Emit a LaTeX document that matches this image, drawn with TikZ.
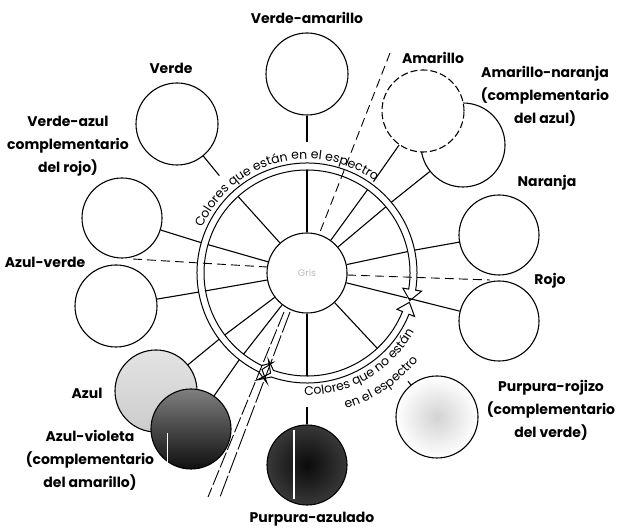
\documentclass[tikz,border=0pt]{standalone}
\usepackage{fontspec}
\setmainfont{Poppins}
\usetikzlibrary{decorations.text}
\newcommand\lblfont{\bfseries\fontsize{14}{23}\selectfont}
\newcommand\ringfnt{\fontsize{12.5}{14}\selectfont}
\begin{document}
\begin{tikzpicture}[x=1pt,y=1pt,
  swatch/.style={circle, draw, line width=1.1pt, minimum size=82pt, inner sep=0pt, fill=white},
  lbl/.style={font=\lblfont, align=center, inner sep=0pt},
  spoke/.style={line width=1.1pt},
  link/.style={line width=1.1pt},
  band/.style={line width=1pt, line join=miter},
  guide/.style={line width=0.9pt, dash pattern=on 9pt off 5pt},
  ringtext/.style={decorate, decoration={text along path, text align=center, text={|\ringfnt|#1}}}]
\useasboundingbox (0,0) rectangle (617,529);
\coordinate (O) at (307,256);

% colour swatches around the wheel
\node[swatch] (cVA) at (307,455) {};
\node[swatch] (cV) at (177,405) {};
\node[swatch, minimum size=80pt] (cVAz) at (122,311) {};
\node[swatch] (cAzV) at (116,223) {};
\node[swatch, top color=gray!22, bottom color=gray!40] (cAz) at (156,138) {};
\node[swatch, minimum size=80pt, top color=black!50, middle color=black!92, bottom color=black!94] (cAzVi) at (191,100) {};
\draw[white, line width=0.8pt] (167,64) -- (167,96);
\node[swatch, minimum size=80pt, inner color=black!96, outer color=black!78] (cPA) at (307,64) {};
\draw[white, line width=1.4pt] (294,30) -- (294,99);
\node[swatch, inner color=gray!35, outer color=white] (cPR) at (437,112) {};
\node[swatch, minimum size=80pt] (cR) at (499,208) {};
\node[swatch, minimum size=80pt] (cN) at (499,294) {};
\node[swatch, minimum size=84pt] (cAN) at (463,384) {};
\node[swatch, dash pattern=on 7pt off 3pt] (cAm) at (423,418) {};

% centre of the wheel
\node[circle, draw, line width=1.1pt, minimum size=80pt, inner sep=0pt,
      font=\fontsize{9.5}{11}\selectfont, text=gray!55] (gris) at (O) {Gris};

\begin{scope}[shift={(O)}]
  % spokes of the wheel
  \foreach \a in {90,132,164,190,217,232,270,313,346,12,40,54}
    \draw[spoke] (gris.\a) -- (\a:103);

  % band: colours of the spectrum
  \draw[band] (244:110) arc[start angle=244, end angle=-9, radius=110]
    -- (-9:116) -- (-15:106.5) -- (-9:97) -- (-9:103)
    arc[start angle=-9, end angle=244, radius=103]
    -- (249:96) -- (245:106.5) -- (250:117) -- cycle;
  % band: colours outside the spectrum
  \draw[band] (-109:110) arc[start angle=-109, end angle=-22, radius=110]
    -- (-22:116) -- (-16:106.5) -- (-22:97) -- (-22:103)
    arc[start angle=-22, end angle=-109, radius=103]
    -- (-114:95) -- (-110:106.5) -- (-115:118) -- cycle;

  % captions along the bands
  \path[ringtext={Colores que están en el espectro}]
    (172:114) arc[start angle=172, end angle=38, radius=114];
  \path[ringtext={Colores que no están}]
    (-100:122) arc[start angle=-100, end angle=-20, radius=122];
  \path[ringtext={en el espectro}]
    (-82:141) arc[start angle=-82, end angle=-30, radius=141];

  % outer ends of the links
  \coordinate (kVA) at (90:131);
  \coordinate (kV) at (132:131);
  \coordinate (kVAz) at (164:110);
  \coordinate (kAzV) at (190:110);
  \coordinate (kAz) at (217:110);
  \coordinate (kAzVi) at (232:110);
  \coordinate (kPA) at (-90:134);
  \coordinate (kPR) at (-47:148);
  \coordinate (kR) at (-14:104);
  \coordinate (kN) at (12:110);
  \coordinate (kAN) at (40:110);
  \coordinate (kAm) at (54:113);
\end{scope}

% links from the wheel to the swatches
\draw[link] (kVA) -- (cVA);
\draw[link] (kV) -- (cV);
\draw[link] (kVAz) -- (cVAz);
\draw[link] (kAzV) -- (cAzV);
\draw[link] (kAz) -- (cAz);
\draw[link] (kAzVi) -- (cAzVi);
\draw[link] (kPA) -- (cPA);
\draw[link] (kPR) -- (cPR);
\draw[link] (kR) -- (cR);
\draw[link] (kN) -- (cN);
\draw[link] (kAN) -- (cAN);
\draw[link] (kAm) -- (cAm);

% dashed guides for the primaries and the purple boundary
\coordinate (gY1) at (390,476); \coordinate (gY2) at (320,297);
\coordinate (gL1) at (133,270); \coordinate (gL2) at (267,262);
\coordinate (gR1) at (347,254); \coordinate (gR2) at (490,249);
\coordinate (gBa1) at (284,217); \coordinate (gBa2) at (208,32);
\coordinate (gBb1) at (290,217); \coordinate (gBb2) at (220,32);
\draw[guide] (gY1) -- (gY2);
\draw[guide] (gL1) -- (gL2);
\draw[guide] (gR1) -- (gR2);
\draw[guide, dash pattern=on 16pt off 3pt] (gBa1) -- (gBa2);
\draw[guide, dash pattern=on 22pt off 3pt] (gBb1) -- (gBb2);

% labels
\node[lbl] (tVA) at (307,511) {Verde-amarillo};
\node[lbl] (tV) at (171,461) {Verde};
\node[lbl] (tVAz) at (68,383) {Verde-azul\\complementario\\del rojo)};
\node[lbl] (tAzV) at (45,267) {Azul-verde};
\node[lbl] (tAz) at (87,136) {Azul};
\node[lbl] (tAzVi) at (90,69) {Azul-violeta\\(complementario\\del amarillo)};
\node[lbl] (tPA) at (312,10) {Purpura-azulado};
\node[lbl] (tPR) at (551,119) {Purpura-rojizo\\(complementario\\del verde)};
\node[lbl] (tR) at (550,248) {Rojo};
\node[lbl] (tN) at (547,346) {Naranja};
\node[lbl] (tAN) at (545,433) {Amarillo-naranja\\(complementario\\del azul)};
\node[lbl] (tAm) at (433,471) {Amarillo};
\end{tikzpicture}
\end{document}
